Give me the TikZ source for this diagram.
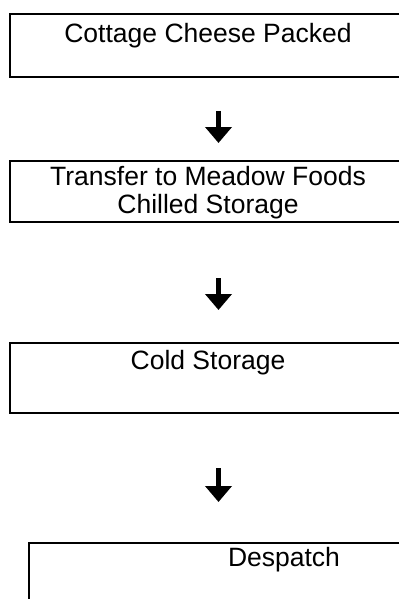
\documentclass[tikz,border=0pt]{standalone}
\usepackage{fontspec}
\setmainfont{Liberation Sans}
\usetikzlibrary{arrows.meta, positioning}

\begin{document}
\begin{tikzpicture}[
  x = 1pt, y = 1pt,                        % work in points
  > = {Triangle[width=26pt, length=16pt]}, % arrow head style
  line width = 2pt                         % box lines
  ]

  \tikzstyle{stepbox}=[   % Box area, its right side is at the page edge
  rectangle,
  outer sep = 0pt, inner sep = 0pt,
  minimum width = 389pt
  ]

  \tikzstyle{steptext}=[  % Text at the top of a box
  inner sep = 0pt, align = center,
  font = \fontsize{26.5}{28}\selectfont
  ]

  \tikzstyle{flow}=[->, line width = 4.5pt]

  \useasboundingbox (0,0) rectangle (401,-599);

  % Definition of the boxes
  \node[stepbox, minimum height = 63pt, anchor = north west] (packed) at (10,-14) {};
  \node[stepbox, minimum height = 61pt] (chilled) [below = 84pt of packed.south west, anchor = north west] {};
  \node[stepbox, minimum height = 70pt] (cold) [below = 121pt of chilled.south west, anchor = north west] {};
  \node[stepbox, minimum height = 70pt, minimum width = 370pt] (despatch) [below right = 130pt and 19pt of cold.south west, anchor = north west] {};

  % Outlines: top, left and bottom side only
  \foreach \b in {packed, chilled, cold, despatch}
    \draw (\b.north east) -- (\b.north west) -- (\b.south west) -- (\b.south east);

  % Texts
  \node[steptext] (packedtxt) [below right = 8pt and 198pt of packed.north west, anchor = north] {Cottage Cheese Packed};
  \node[steptext] (chilledtxt) [below right = 4pt and 198pt of chilled.north west, anchor = north] {Transfer to Meadow Foods\\Chilled Storage};
  \node[steptext] (coldtxt) [below right = 6pt and 198pt of cold.north west, anchor = north] {Cold Storage};
  \node[steptext] (despatchtxt) [below right = 3pt and 255pt of despatch.north west, anchor = north] {Despatch};

  % Arrows between the boxes
  \coordinate[below right = 34pt and 208.5pt of packed.south west] (flow1a);
  \coordinate[below = 32pt of flow1a] (flow1b);
  \coordinate[below right = 56pt and 208.5pt of chilled.south west] (flow2a);
  \coordinate[below = 32pt of flow2a] (flow2b);
  \coordinate[below right = 55pt and 208.5pt of cold.south west] (flow3a);
  \coordinate[below = 34pt of flow3a] (flow3b);

  \path[flow] (flow1a) edge (flow1b);
  \path[flow] (flow2a) edge (flow2b);
  \path[flow] (flow3a) edge (flow3b);
\end{tikzpicture}
\end{document}
